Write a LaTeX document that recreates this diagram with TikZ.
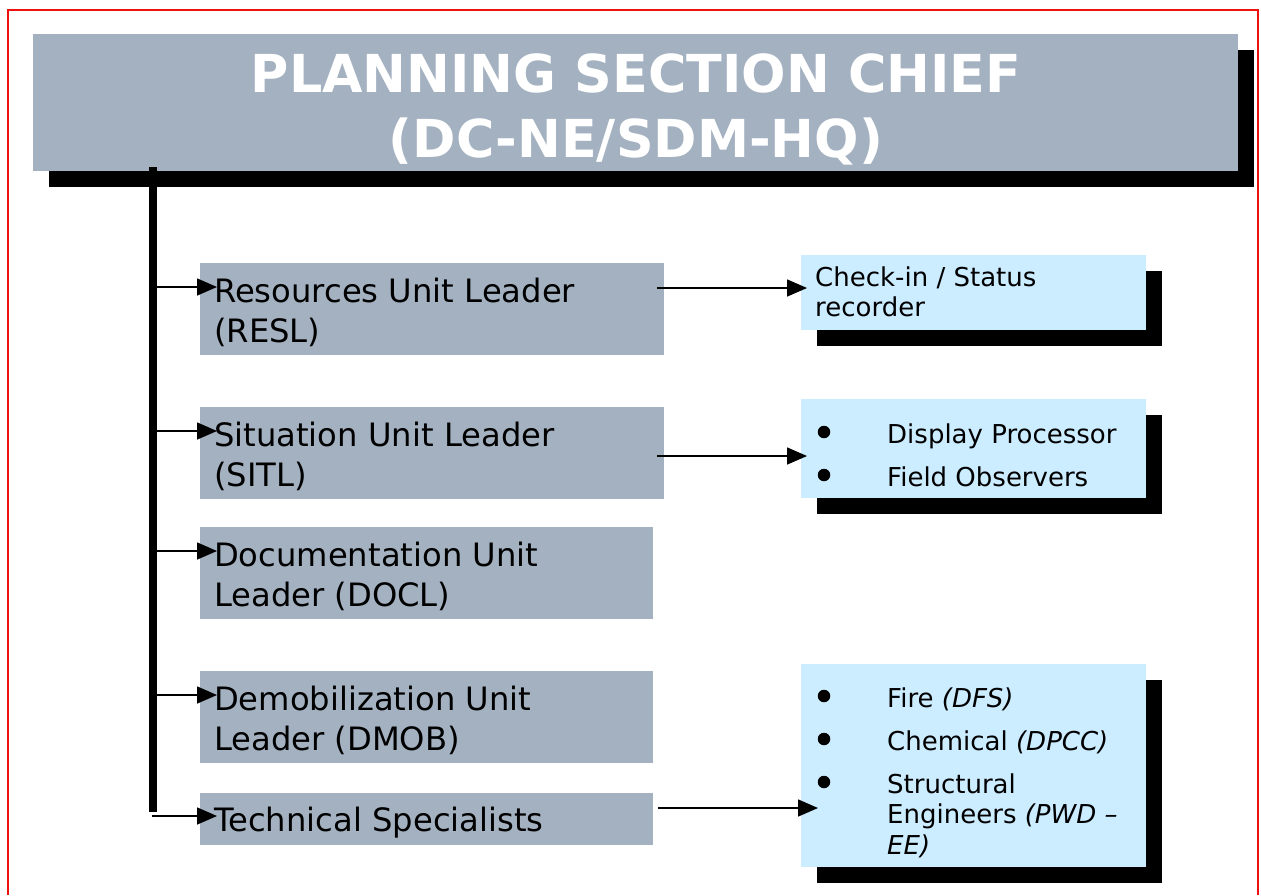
\documentclass[tikz,border=0pt]{standalone}
\usepackage{fontspec}
\setmainfont{DejaVu Sans}
\usetikzlibrary{arrows.meta,shadows}
\definecolor{boxgray}{HTML}{A3B1C0}
\definecolor{boxblue}{HTML}{CCECFF}
\definecolor{framered}{HTML}{F01010}
\begin{document}
\begin{tikzpicture}[x=1pt,y=-1pt,
  blackshadow/.style={drop shadow={fill=black, opacity=1, shadow xshift=16pt, shadow yshift=-16pt}},
  chiefbox/.style={fill=boxgray, inner sep=0pt, minimum width=1205pt, minimum height=137pt, blackshadow},
  chieftext/.style={anchor=base, inner sep=0pt, text=white, font=\fontsize{52.3}{65}\selectfont\bfseries},
  gbox/.style={fill=boxgray, inner sep=0pt, anchor=north west},
  lbox/.style={fill=boxblue, inner sep=0pt, anchor=north west, minimum width=345pt, blackshadow},
  gtext/.style={anchor=base west, inner sep=0pt, font=\fontsize{32.2}{40}\selectfont},
  ltext/.style={anchor=base west, inner sep=0pt, font=\fontsize{26}{30.5}\selectfont},
  dot/.style={circle, fill=black, inner sep=0pt, minimum size=12.5pt},
  arr/.style={line width=1.6pt, -{Triangle[length=20pt,width=17pt]}},
  trunk/.style={line width=8pt}
]
\useasboundingbox (0,0) rectangle (1261,895);
% outer frame
\draw[framered, line width=2pt] (8,895) -- (8,9.5) -- (1257.5,9.5) -- (1257.5,895);

% chief
\node[chiefbox] (chief) at (635.5,102.5) {};
\node[chieftext] (chiefT) at (636,92) {\begin{tabular}[t]{@{}c@{}}PLANNING SECTION CHIEF\\(DC-NE/SDM-HQ)\end{tabular}};

% unit boxes
\node[gbox, minimum width=464pt, minimum height=92pt] (resl) at (200,263) {};
\node[gbox, minimum width=464pt, minimum height=92pt] (sitl) at (200,407) {};
\node[gbox, minimum width=453pt, minimum height=92pt] (docl) at (200,527) {};
\node[gbox, minimum width=453pt, minimum height=92pt] (dmob) at (200,671) {};
\node[gbox, minimum width=453pt, minimum height=52pt] (tech) at (200,793) {};

\node[gtext] (reslT) at (214,302) {\begin{tabular}[t]{@{}l@{}}Resources Unit Leader\\(RESL)\end{tabular}};
\node[gtext] (sitlT) at (214,446) {\begin{tabular}[t]{@{}l@{}}Situation Unit Leader\\(SITL)\end{tabular}};
\node[gtext] (doclT) at (214,566) {\begin{tabular}[t]{@{}l@{}}Documentation Unit\\Leader (DOCL)\end{tabular}};
\node[gtext] (dmobT) at (214,710) {\begin{tabular}[t]{@{}l@{}}Demobilization Unit\\Leader (DMOB)\end{tabular}};
\node[gtext] (techT) at (214,831) {Technical Specialists};

% right boxes
\node[lbox, minimum height=75pt] (checkin) at (801,255) {};
\node[lbox, minimum height=99pt] (display) at (801,399) {};
\node[lbox, minimum height=203pt] (spec) at (801,664) {};

\node[ltext] (checkinT) at (815,286) {\begin{tabular}[t]{@{}l@{}}Check-in / Status\\recorder\end{tabular}};

\node[dot] (d1) at (824,432) {};
\node[dot] (d2) at (824,475) {};
\node[ltext] (dispT) at (887,443) {Display Processor};
\node[ltext] (fieldT) at (887,486) {Field Observers};

\node[dot] (d3) at (824,696) {};
\node[dot] (d4) at (824,739) {};
\node[dot] (d5) at (824,782) {};
\node[ltext] (fireT) at (887,707) {Fire \textit{(DFS)}};
\node[ltext] (chemT) at (887,750) {Chemical \textit{(DPCC)}};
\node[ltext] (structT) at (887,793) {\begin{tabular}[t]{@{}l@{}}Structural\\Engineers \textit{(PWD –}\\\textit{EE)}\end{tabular}};

% trunk
\coordinate (trunkTop) at (153,167);
\coordinate (trunkBot) at (153,812);
\draw[trunk] (trunkTop) -- (trunkBot);

% branch arrows
\draw[arr] (157,287) -- ([xshift=17pt]resl.west |- 0,287);
\draw[arr] (157,431) -- ([xshift=17pt]sitl.west |- 0,431);
\draw[arr] (157,551) -- ([xshift=17pt]docl.west |- 0,551);
\draw[arr] (157,695) -- ([xshift=17pt]dmob.west |- 0,695);
\draw[arr] (152,816) -- ([xshift=17pt]tech.west |- 0,816);

% right arrows
\draw[arr] ([xshift=-7pt]resl.east |- 0,288) -- ([xshift=6pt]checkin.west |- 0,288);
\draw[arr] ([xshift=-7pt]sitl.east |- 0,456) -- ([xshift=6pt]display.west |- 0,456);
\draw[arr] ([xshift=5pt]tech.east |- 0,808) -- ([xshift=17pt]spec.west |- 0,808);
\end{tikzpicture}
\end{document}
